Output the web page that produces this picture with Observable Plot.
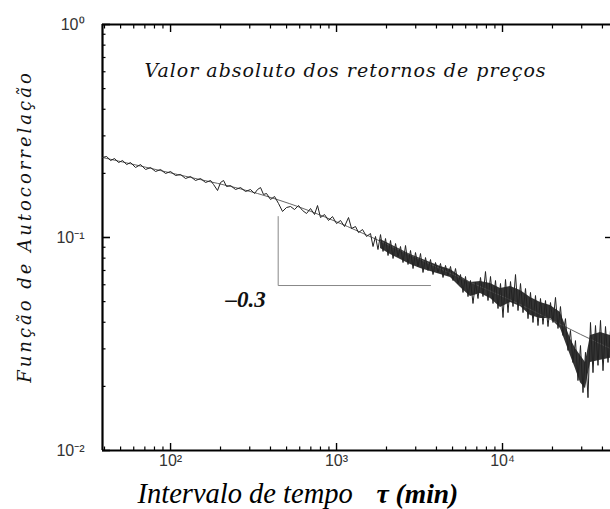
<!DOCTYPE html>
<html><head><meta charset="utf-8">
<script src="https://cdn.jsdelivr.net/npm/d3@7"></script>
<script src="https://cdn.jsdelivr.net/npm/@observablehq/plot@0.6"></script>
<style>
html,body{margin:0;padding:0;background:#fff;overflow:hidden;}
</style></head><body><div id="chart"></div>
<script>
// ---- data ----
// autocorrelation series (sparse part, then dense alternating extremes)
const tauData = [
  38.9, 41.2, 43.5, 46.0, 48.6, 51.4, 54.4, 57.4, 61.5, 66.0, 70.7, 75.8, 81.2, 87.1, 93.3, 100,
  107.2, 114.9, 123.1, 132.0, 141.4, 151.6, 162.5, 174.2, 181.6, 191.9, 200.1, 208.6, 217.5, 229.8,
  246.3, 264.1, 283.0, 303.3, 320.6, 334.2, 348.4, 363.2, 378.6, 400.3, 423.1, 447.2, 472.7, 499.7,
  528.2, 558.3, 590.2, 623.8, 659.5, 697.0, 736.8, 768.1, 800.7, 846.4, 894.7, 945.6, 999.7, 1057,
  1117, 1181, 1231, 1301, 1357, 1434, 1516,
  1602, 1659, 1717, 1777, 1841, 1906, 1973, 2043, 2115, 2190, 2267, 2347, 2429, 2515, 2604, 2696,
  2791, 2890, 2991, 3097, 3206, 3319, 3436, 3557, 3683, 3813, 3948, 4087, 4231, 4380, 4535, 4695,
  4861, 5033, 5210, 5394, 5584, 5781, 5985, 6196, 6414, 6640, 6875, 7118, 7368, 7628, 7897, 8176,
  8465, 8764, 9073, 9393, 9726, 10069, 10424, 10792, 11172, 11566, 11974, 12397, 12834, 13287,
  13756, 14242, 14742, 15262, 15801, 16359, 16935, 17533, 18151, 18792, 19455, 20142, 20852, 21588,
  22348, 23137, 23953, 24799, 25670, 26576, 27513, 28484, 29496, 30537, 31614, 32730, 33890, 35086,
  36323, 37605, 38940, 40315, 41736, 43209, 44730
];
const corrData = [
  0.2375, 0.2401, 0.2298, 0.2349, 0.2249, 0.2298, 0.2201, 0.2249, 0.2131, 0.2201, 0.2086, 0.2131,
  0.2041, 0.2086, 0.1998, 0.2041, 0.1955, 0.1976, 0.1892, 0.1934, 0.1852, 0.1892, 0.1812, 0.1852,
  0.1773, 0.1662, 0.1812, 0.1852, 0.1735, 0.1754, 0.1680, 0.1716, 0.1644, 0.1680, 0.1609, 0.1680,
  0.1716, 0.1592, 0.1609, 0.1508, 0.1558, 0.1444, 0.1325, 0.1383, 0.1398, 0.1353, 0.1413, 0.1339,
  0.1296, 0.1368, 0.1282, 0.1413, 0.1241, 0.1282, 0.1202, 0.1254, 0.1163, 0.1202, 0.1126, 0.1241,
  0.1102, 0.1126, 0.1055, 0.1090, 0.1011,
  0.1044, 0.0907, 0.1011, 0.0878, 0.1032, 0.0860, 0.0989, 0.0823, 0.0968, 0.0797, 0.0937, 0.0814,
  0.0907, 0.0763, 0.0917, 0.0747, 0.0869, 0.0715, 0.0850, 0.0731, 0.0841, 0.0685, 0.0805, 0.0700,
  0.0788, 0.0670, 0.0763, 0.0685, 0.0755, 0.0649, 0.0739, 0.0663, 0.0731, 0.0628, 0.0715, 0.0608,
  0.0670, 0.0552, 0.0656, 0.0528, 0.0628, 0.0490, 0.0615, 0.0517, 0.0649, 0.0528, 0.0692, 0.0506,
  0.0656, 0.0490, 0.0628, 0.0464, 0.0608, 0.0421, 0.0635, 0.0444, 0.0621, 0.0474, 0.0670, 0.0454,
  0.0608, 0.0444, 0.0576, 0.0416, 0.0552, 0.0399, 0.0534, 0.0386, 0.0517, 0.0391, 0.0506, 0.0382,
  0.0495, 0.0399, 0.0523, 0.0374, 0.0474, 0.0347, 0.0416, 0.0295, 0.0366, 0.0259, 0.0328, 0.0213,
  0.0311, 0.0187, 0.0289, 0.0177, 0.0399, 0.0232, 0.0386, 0.0251, 0.0408, 0.0237, 0.0382, 0.0259,
  0.0366
];
// dense core of the noisy band (upper / lower edge)
const bandTau = [1841, 2115, 2429, 2791, 3206, 3683, 4231, 4861, 5584, 6414, 7368, 8465, 9726,
  11172, 12834, 14742, 16935, 19455, 22348, 25670, 27513, 29496, 31614, 33890, 38940, 44730];
const bandHigh = [0.0979, 0.0927, 0.0878, 0.0832, 0.0797, 0.0763, 0.0731, 0.0708, 0.0656,
  0.0615, 0.0621, 0.0608, 0.0576, 0.0589, 0.0564, 0.0523, 0.0495, 0.0479, 0.0444, 0.0335, 0.0301,
  0.0279, 0.0259, 0.0347, 0.0358, 0.0347];
const bandLow = [0.0888, 0.0832, 0.0789, 0.0747, 0.0715, 0.0692, 0.0670, 0.0649, 0.0582,
  0.0528, 0.0546, 0.0517, 0.0469, 0.0495, 0.0474, 0.0430, 0.0417, 0.0417, 0.0374, 0.0279, 0.0242,
  0.0208, 0.0195, 0.0259, 0.0265, 0.0271];
// power-law fit
const tauFit = [38.9, 110.2, 334.2, 606.8, 1165, 2429, 5356, 12834, 29496, 44730];
const corrFit = [0.2375, 0.1976, 0.1609, 0.1383, 0.1126, 0.0869, 0.0656, 0.0484, 0.0351, 0.0301];
// slope guide
const slopeTau = [445, 445, 3683];
const slopeCorr = [0.1254, 0.0595, 0.0595];
const slopeLabel = "–0.3";
const xTickValues = [100, 1000, 10000];
const xTickLabels = ["10²", "10³", "10⁴"];
const yTickValues = [0.01, 0.1, 1];
const yTickLabels = ["10⁻²", "10⁻¹", "10⁰"];
const titleText = "Valor absoluto dos retornos de preços";
const yLabelText = "Função de Autocorrelação";
const xLabelMain = "Intervalo de tempo";
const xLabelUnit = "τ (min)";

// ---- build ----
const xDomain = [38.9, 44730];
const yDomain = [0.01, 1];
const mant = [2, 3, 4, 5, 6, 7, 8, 9];
const xMinor = [10, 100, 1000, 10000].flatMap(d => mant.map(m => m * d)).filter(v => v > xDomain[0] && v < xDomain[1]);
const yMinor = [0.01, 0.1].flatMap(d => mant.map(m => m * d));

const series = tauData.map((t, i) => ({t, c: corrData[i]}));
const band = bandTau.map((t, i) => ({t, hi: bandHigh[i], lo: bandLow[i]}));
const fit = tauFit.map((t, i) => ({t, c: corrFit[i]}));
const slope = slopeTau.map((t, i) => ({t, c: slopeCorr[i]}));

const serif = "'DejaVu Serif', serif";
const times = "'Liberation Serif', 'Times New Roman', serif";
const chart = Plot.plot({
  width: 610, height: 509,
  marginLeft: 102, marginRight: 0, marginTop: 24, marginBottom: 59,
  x: {type: "log", domain: xDomain, axis: null},
  y: {type: "log", domain: yDomain, axis: null},
  style: {fontFamily: "'Liberation Sans', Arial, sans-serif", background: "#fff", overflow: "visible"},
  marks: [
    // ticks (inward)
    Plot.axisX(xMinor, {anchor: "bottom", tickSize: -3.5, text: null, label: null, strokeWidth: 1.2}),
    Plot.axisX(xTickValues, {anchor: "bottom", tickSize: -7, text: null, label: null, strokeWidth: 1.4}),
    Plot.axisX(xMinor, {anchor: "top", tickSize: -3.5, text: null, label: null, strokeWidth: 1.2}),
    Plot.axisX(xTickValues, {anchor: "top", tickSize: -7, text: null, label: null, strokeWidth: 1.4}),
    Plot.axisY(yMinor, {anchor: "left", tickSize: -3.5, text: null, label: null, strokeWidth: 1.2}),
    Plot.axisY(yTickValues, {anchor: "left", tickSize: -8, text: null, label: null, strokeWidth: 1.6}),
    Plot.axisY([0.1], {anchor: "right", tickSize: -6, text: null, label: null, strokeWidth: 1.4}),
    // tick labels
    Plot.axisX(xTickValues, {anchor: "bottom", tickSize: 0, tickPadding: 4, label: null, fontSize: 16, fill: "#333",
      tickFormat: d => xTickLabels[xTickValues.indexOf(d)]}),
    Plot.axisY(yTickValues, {anchor: "left", tickSize: 0, tickPadding: 18, label: null, fontSize: 16, fill: "#333",
      tickFormat: d => yTickLabels[yTickValues.indexOf(d)]}),
    // frame
    Plot.ruleX([xDomain[0]], {strokeWidth: 2.2}),
    Plot.ruleY([yDomain[0]], {strokeWidth: 2.2}),
    Plot.ruleY([yDomain[1]], {strokeWidth: 1.8}),
    // slope triangle
    Plot.line(slope, {x: "t", y: "c", stroke: "#888", strokeWidth: 1}),
    // fit and data
    Plot.areaY(band, {x: "t", y1: "lo", y2: "hi", fill: "#111", fillOpacity: 0.85, curve: "linear", clip: true}),
    Plot.line(fit, {x: "t", y: "c", stroke: "#555", strokeWidth: 0.9, curve: "monotone-x", clip: true}),
    Plot.line(series, {x: "t", y: "c", stroke: "#222", strokeWidth: 1, clip: true}),
    // texts
    Plot.text([slopeLabel], {x: 283, y: 0.0512, text: d => d, fontFamily: times,
      fontStyle: "italic", fontWeight: "bold", fontSize: 23, fill: "#111"}),
    Plot.text([titleText], {frameAnchor: "top-left", dx: 243, dy: 52, text: d => d, textAnchor: "middle",
      lineAnchor: "bottom", fontFamily: serif, fontStyle: "italic", fontSize: 19, fill: "#111", className: "ttl"}),
    Plot.text([yLabelText], {frameAnchor: "left", dx: -77, dy: -11, rotate: -90, text: d => d, textAnchor: "middle",
      fontFamily: serif, fontStyle: "italic", fontSize: 18, fill: "#111", className: "ylab"}),
    Plot.text([xLabelMain], {frameAnchor: "bottom-left", dx: 35, dy: 52, text: d => d, textAnchor: "start",
      lineAnchor: "bottom", fontFamily: times, fontStyle: "italic", fontSize: 28.5, fill: "#000"}),
    Plot.text([xLabelUnit], {frameAnchor: "bottom-left", dx: 274, dy: 52, text: d => d, textAnchor: "start",
      lineAnchor: "bottom", fontFamily: times, fontStyle: "italic", fontWeight: "bold", fontSize: 27.5, fill: "#000"})
  ]
});
d3.select(chart).selectAll(".ttl text").style("letter-spacing", "1px");
d3.select(chart).selectAll(".ylab text").style("letter-spacing", "3px");
document.getElementById("chart").appendChild(chart);
</script>
</body></html>
